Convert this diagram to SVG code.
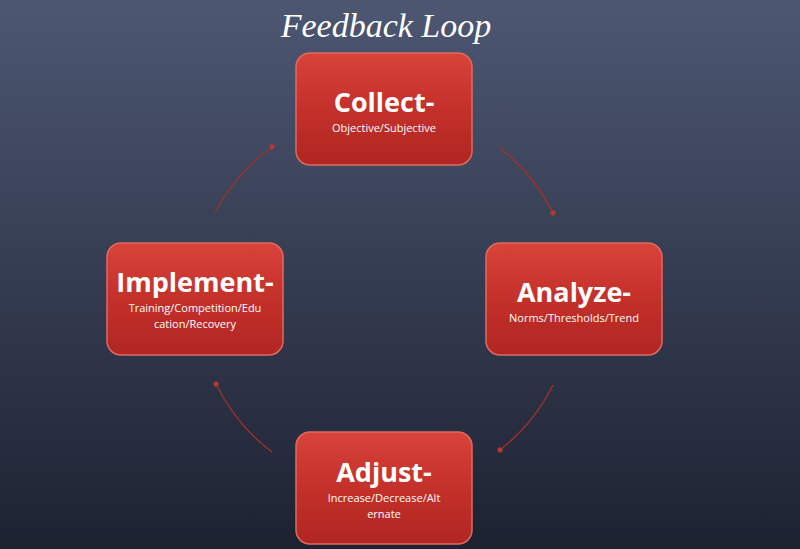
<svg xmlns="http://www.w3.org/2000/svg" width="800" height="549" viewBox="0 0 800 549">
<defs>
<linearGradient id="bg" x1="0" y1="0" x2="0" y2="1"><stop offset="0" stop-color="#4d5772"/><stop offset="1" stop-color="#1d2231"/></linearGradient>
<linearGradient id="box" x1="0" y1="0" x2="0" y2="1"><stop offset="0" stop-color="#d8443a"/><stop offset="0.5" stop-color="#c4302a"/><stop offset="1" stop-color="#b02622"/></linearGradient>
<marker id="ah" markerWidth="6" markerHeight="6" refX="3" refY="3" orient="auto"><circle cx="3" cy="3" r="2" fill="#b8362e"/></marker>
<style>
.b{fill:url(#box);stroke:#e06a60;stroke-width:1.5}
.t{font-family:"Open Sans","Liberation Sans",sans-serif;font-weight:bold;fill:#fff;text-anchor:middle;font-size:27px}
.s{font-family:"Open Sans","Liberation Sans",sans-serif;fill:#fff;text-anchor:middle;font-size:11px}
.c{fill:none;stroke:#a0302a;stroke-width:1.3;marker-end:url(#ah)}
</style>
</defs>
<rect width="800" height="549" fill="url(#bg)"/>
<text x="386" y="37" font-family="Liberation Serif,serif" font-style="italic" font-size="34" fill="#fff" text-anchor="middle">Feedback Loop</text>
<g id="connectors">
<path class="c" d="M500,148 A190,190 0 0 1 553,213"/>
<path class="c" d="M553,385 A190,190 0 0 1 500,450"/>
<path class="c" d="M272,452 A190,190 0 0 1 216,384"/>
<path class="c" d="M215,212 A190,190 0 0 1 272,147"/>
</g>
<g id="collect"><rect class="b" x="296" y="53" width="176" height="112" rx="14"/><text class="t" x="384" y="112">Collect-</text><text class="s" x="384" y="132">Objective/Subjective</text></g>
<g id="analyze"><rect class="b" x="486" y="243" width="176" height="112" rx="14"/><text class="t" x="574" y="302">Analyze-</text><text class="s" x="574" y="322">Norms/Thresholds/Trend</text></g>
<g id="implement"><rect class="b" x="107" y="243" width="176" height="112" rx="14"/><text class="t" x="195" y="292">Implement-</text><text class="s" x="195" y="312">Training/Competition/Edu</text><text class="s" x="195" y="328">cation/Recovery</text></g>
<g id="adjust"><rect class="b" x="296" y="432" width="176" height="112" rx="14"/><text class="t" x="384" y="482">Adjust-</text><text class="s" x="384" y="502">Increase/Decrease/Alt</text><text class="s" x="384" y="518">ernate</text></g>
</svg>
